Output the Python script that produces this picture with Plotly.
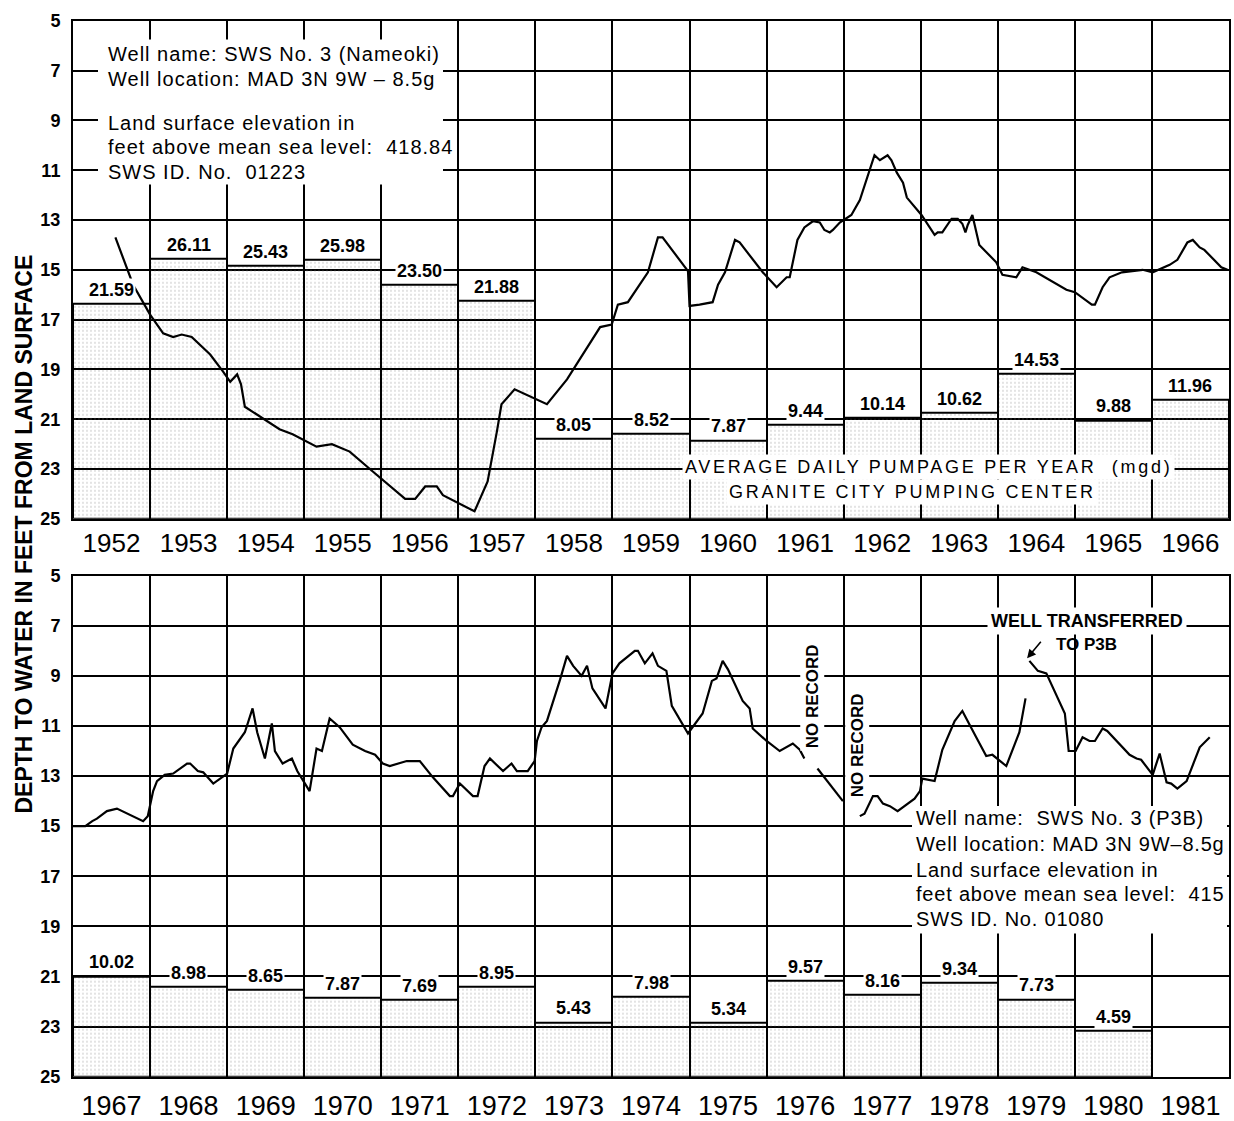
import plotly.graph_objects as go

# ---------------------------------------------------------------- data
# Average daily pumpage per year (mgd), Granite City pumping center
pump_years_top = list(range(1952, 1967))
pump_top = [21.59, 26.11, 25.43, 25.98, 23.50, 21.88, 8.05, 8.52, 7.87,
            9.44, 10.14, 10.62, 14.53, 9.88, 11.96]
pump_years_bot = list(range(1967, 1981))
pump_bot = [10.02, 8.98, 8.65, 7.87, 7.69, 8.95, 5.43, 7.98, 5.34, 9.57,
            8.16, 9.34, 7.73, 4.59]

year_labels_top = [str(y) for y in range(1952, 1967)]
year_labels_bot = [str(y) for y in range(1967, 1982)]
depth_ticks = list(range(5, 26, 2))

# Depth to water (ft below land surface), SWS No. 3 (Nameoki), 1952-1966
t_top = [1952.55, 1952.78, 1953.0, 1953.17, 1953.30, 1953.41, 1953.54, 1953.78, 1953.95, 1954.04,
         1954.13, 1954.18, 1954.23, 1954.43, 1954.68, 1954.85, 1955.16, 1955.36, 1955.59, 1955.89,
         1956.24, 1956.31, 1956.44, 1956.57, 1956.72, 1956.80, 1957.21, 1957.38, 1957.50, 1957.56,
         1957.73, 1958.15, 1958.41, 1958.67, 1958.84, 1958.99, 1959.07, 1959.20, 1959.35, 1959.46,
         1959.59, 1959.65, 1959.98, 1960.0, 1960.13, 1960.30, 1960.37, 1960.46, 1960.59, 1960.65,
         1960.95, 1961.13, 1961.26, 1961.30, 1961.40, 1961.49, 1961.60, 1961.69, 1961.75, 1961.82,
         1961.86, 1961.95, 1962.10, 1962.21, 1962.40, 1962.47, 1962.57, 1962.62, 1962.69, 1962.77,
         1962.82, 1963.01, 1963.18, 1963.22, 1963.28, 1963.40, 1963.48, 1963.54, 1963.58, 1963.61,
         1963.67, 1963.70, 1963.76, 1963.98, 1964.06, 1964.24, 1964.32, 1964.50, 1964.89, 1965.00,
         1965.22, 1965.26, 1965.36, 1965.45, 1965.61, 1965.88, 1966.01, 1966.23, 1966.33, 1966.46,
         1966.53, 1966.62, 1966.68, 1966.90, 1966.98]
d_top = [13.7, 15.6, 16.8, 17.55, 17.7, 17.6, 17.7, 18.4, 19.1, 19.5,
         19.2, 19.6, 20.5, 20.9, 21.4, 21.6, 22.1, 22.0, 22.3, 23.1,
         24.0, 24.2, 24.2, 23.7, 23.7, 24.05, 24.7, 23.5, 21.5, 20.4,
         19.8, 20.4, 19.4, 18.1, 17.3, 17.2, 16.4, 16.3, 15.6, 15.1,
         13.7, 13.7, 15.05, 16.45, 16.4, 16.3, 15.6, 15.1, 13.8, 13.9,
         15.1, 15.7, 15.3, 15.3, 13.8, 13.3, 13.05, 13.1, 13.4, 13.5,
         13.4, 13.1, 12.8, 12.2, 10.4, 10.6, 10.4, 10.6, 11.1, 11.5,
         12.1, 12.8, 13.6, 13.5, 13.5, 12.95, 12.95, 13.15, 13.5, 13.2,
         12.8, 13.2, 14.0, 14.7, 15.2, 15.3, 14.9, 15.1, 15.8, 15.9,
         16.4, 16.4, 15.7, 15.3, 15.1, 15.0, 15.1, 14.8, 14.6, 13.9,
         13.8, 14.1, 14.2, 14.9, 15.0]

# Depth to water, SWS No. 3 (P3B), 1967-1981 (None = no record)
t_bot = [1967.0, 1967.16, 1967.25, 1967.31, 1967.44, 1967.57, 1967.91, 1967.97, 1968.04, 1968.09,
         1968.19, 1968.30, 1968.48, 1968.52, 1968.62, 1968.69, 1968.82, 1969.0, 1969.08, 1969.23,
         1969.33, 1969.39, 1969.49, 1969.58, 1969.62, 1969.72, 1969.84, 1969.91, 1970.07, 1970.16,
         1970.23, 1970.33, 1970.46, 1970.63, 1970.79, 1970.92, 1971.02, 1971.11, 1971.33, 1971.50,
         1971.67, 1971.89, 1971.93, 1972.02, 1972.19, 1972.25, 1972.34, 1972.41, 1972.58, 1972.69,
         1972.76, 1972.90, 1972.99, 1973.02, 1973.08, 1973.15, 1973.32, 1973.41, 1973.49, 1973.60,
         1973.67, 1973.74, 1973.91, 1974.00, 1974.09, 1974.29, 1974.33, 1974.42, 1974.52, 1974.59,
         1974.70, 1974.77, 1974.98, 1975.17, 1975.29, 1975.35, 1975.43, 1975.50, 1975.69, 1975.78,
         1975.82, 1976.00, 1976.17, 1976.34, 1976.43, 1976.49, None, 1976.66, 1976.99, None,
         1977.21, 1977.27, 1977.38, 1977.44, 1977.51, 1977.60, 1977.70, 1977.92, 1977.99, 1978.02,
         1978.18, 1978.28, 1978.44, 1978.54, 1978.72, 1978.85, 1978.93, 1979.11, 1979.28, 1979.36,
         None, 1979.41, 1979.52, 1979.63, 1979.87, 1979.92, 1980.01, 1980.10, 1980.19, 1980.26,
         1980.36, 1980.42, 1980.71, 1980.80, 1980.86, 1981.01, 1981.10, 1981.19, 1981.25, 1981.33,
         1981.45, 1981.62, 1981.75]
d_bot = [15.0, 15.0, 14.8, 14.7, 14.4, 14.3, 14.8, 14.6, 13.6, 13.2,
         12.95, 12.9, 12.5, 12.5, 12.8, 12.85, 13.3, 12.9, 11.9, 11.25,
         10.3, 11.25, 12.3, 10.9, 12.0, 12.5, 12.3, 12.8, 13.6, 11.9,
         12.0, 10.7, 11.05, 11.75, 12.0, 12.15, 12.5, 12.6, 12.4, 12.4,
         13.05, 13.8, 13.8, 13.3, 13.8, 13.8, 12.6, 12.3, 12.8, 12.5,
         12.8, 12.8, 12.4, 11.6, 11.05, 10.8, 9.15, 8.2, 8.6, 9.0,
         8.6, 9.5, 10.3, 8.9, 8.5, 8.0, 8.0, 8.5, 8.1, 8.6,
         8.8, 10.2, 11.3, 10.5, 9.2, 9.1, 8.4, 8.75, 10.0, 10.3,
         11.1, 11.6, 12.0, 11.7, 11.95, 12.3, None, 12.7, 14.0, None,
         14.6, 14.5, 13.8, 13.8, 14.1, 14.2, 14.4, 13.9, 13.6, 13.1,
         13.2, 11.95, 10.8, 10.4, 11.45, 12.2, 12.15, 12.6, 11.25, 9.9,
         None, 8.4, 8.8, 8.9, 10.5, 12.0, 12.0, 11.45, 11.6, 11.6,
         11.1, 11.2, 12.15, 12.3, 12.35, 12.95, 12.1, 13.25, 13.3, 13.5,
         13.2, 11.85, 11.45]

info_top = ["Well name: SWS No. 3 (Nameoki)",
            "Well location: MAD 3N 9W \u2013 8.5g",
            "Land surface elevation in",
            "feet above mean sea level:\u00a0 418.84",
            "SWS ID. No.\u00a0 01223"]
info_bot = ["Well name:\u00a0 SWS No. 3 (P3B)",
            "Well location: MAD 3N 9W\u20138.5g",
            "Land surface elevation in",
            "feet above mean sea level:\u00a0 415",
            "SWS ID. No. 01080"]

# ---------------------------------------------------------------- layout constants
W, H = 1234, 1121
FONT = "Liberation Sans, Arial, Helvetica, sans-serif"
X_DOM = [73 / W, 1229 / W]
TOP_DOM = [1 - 519 / H, 1 - 11 / H]
BOT_DOM = [1 - 1088 / H, 1 - 577 / H]


def px(x):
    return x / W


def py(y):
    return 1 - y / H


def year_axis(start, labels, anchor, size, standoff):
    n = len(labels)
    return dict(
        domain=X_DOM, anchor=anchor, range=[start, start + n],
        tickmode="array", tickvals=[start + i + 0.5 for i in range(n)],
        ticktext=labels, ticks="", ticklabelstandoff=standoff,
        tickfont=dict(family=FONT, size=size, color="black"),
        showgrid=False, zeroline=False,
        showline=True, linecolor="black", linewidth=2, mirror=True,
        minor=dict(tickmode="array",
                   tickvals=[start + i for i in range(1, n)],
                   showgrid=True, gridcolor="black", gridwidth=2, ticks=""),
        fixedrange=True,
    )


def depth_axis(over, anchor):
    return dict(
        overlaying=over, anchor=anchor, side="left", range=[25, 5],
        tickmode="array", tickvals=depth_ticks,
        ticktext=[str(v) for v in depth_ticks], ticks="",
        ticklabelstandoff=7,
        tickfont=dict(family=FONT, size=18, color="black", weight="bold"),
        showgrid=True, gridcolor="black", gridwidth=2, zeroline=False,
        showline=True, linecolor="black", linewidth=2, mirror=True,
        fixedrange=True,
    )


def pump_axis(domain, anchor):
    return dict(domain=domain, anchor=anchor, range=[0, 50], visible=False,
                fixedrange=True)


stipple = dict(shape=".", fgcolor="#777777", size=4, solidity=0.12)

fig = go.Figure()

# pumpage bars (drawn on the hidden 0-50 mgd scale)
fig.add_trace(go.Bar(
    x=[y + 0.5 for y in pump_years_top], y=pump_top, width=1,
    xaxis="x", yaxis="y",
    marker=dict(color="rgba(0,0,0,0)", pattern=stipple,
                line=dict(color="black", width=2)),
    hoverinfo="skip", showlegend=False))
fig.add_trace(go.Bar(
    x=[y + 0.5 for y in pump_years_bot], y=pump_bot, width=1,
    xaxis="x2", yaxis="y2",
    marker=dict(color="rgba(0,0,0,0)", pattern=stipple,
                line=dict(color="black", width=2)),
    hoverinfo="skip", showlegend=False))

# water-level hydrographs
fig.add_trace(go.Scatter(
    x=t_top, y=d_top, mode="lines", xaxis="x", yaxis="y3",
    line=dict(color="black", width=2.2), showlegend=False))
fig.add_trace(go.Scatter(
    x=t_bot, y=d_bot, mode="lines", xaxis="x2", yaxis="y4",
    line=dict(color="black", width=2.2), connectgaps=False, showlegend=False))

annotations = []

# pumpage value labels
for yrs, vals, xr, yr in ((pump_years_top, pump_top, "x", "y"),
                          (pump_years_bot, pump_bot, "x2", "y2")):
    for yr_, v in zip(yrs, vals):
        annotations.append(dict(
            x=yr_ + 0.5, y=v, xref=xr, yref=yr, text=f"<b>{v:.2f}</b>",
            showarrow=False, xanchor="center", yanchor="bottom", yshift=2,
            bgcolor="white", borderpad=1,
            font=dict(family=FONT, size=18, color="black")))

# well information blocks
info_span = '<span style="letter-spacing:{}px">{}</span>'
for txt, ypix in zip(info_top, [45, 70, 115, 140, 165]):
    annotations.append(dict(
        x=px(107), y=py(ypix), xref="paper", yref="paper",
        text=info_span.format(1.0, txt), borderpad=0,
        showarrow=False, xanchor="left", yanchor="middle",
        font=dict(family=FONT, size=20, color="black")))
for txt, ypix in zip(info_bot, [824, 851, 877, 902, 927]):
    annotations.append(dict(
        x=px(915), y=py(ypix), xref="paper", yref="paper",
        text=info_span.format(0.8, txt), borderpad=0,
        showarrow=False, xanchor="left", yanchor="middle",
        font=dict(family=FONT, size=20, color="black")))

# pumpage caption
spaced = '<span style="letter-spacing:2.7px">{}</span>'
annotations.append(dict(
    x=px(928), y=py(466), xref="paper", yref="paper",
    text=spaced.format("AVERAGE DAILY PUMPAGE PER YEAR\u00a0 (mgd)"),
    showarrow=False, xanchor="center", yanchor="middle",
    bgcolor="white", borderpad=2,
    font=dict(family=FONT, size=18, color="black")))
annotations.append(dict(
    x=px(912), y=py(492), xref="paper", yref="paper",
    text=spaced.format("GRANITE CITY PUMPING CENTER"),
    showarrow=False, xanchor="center", yanchor="middle",
    bgcolor="white", borderpad=2,
    font=dict(family=FONT, size=18, color="black")))

# gaps in the record
for xpix, ypix in ((812, 700), (857, 750)):
    annotations.append(dict(
        x=px(xpix), y=py(ypix), xref="paper", yref="paper",
        text="<b>NO RECORD</b>", textangle=-90, showarrow=False,
        xanchor="center", yanchor="middle",
        bgcolor="white", borderpad=2,
        font=dict(family=FONT, size=17, color="black")))

# well transfer note
annotations.append(dict(
    x=px(1087), y=py(623), xref="paper", yref="paper",
    text="<b>WELL TRANSFERRED</b>", showarrow=False,
    xanchor="center", yanchor="middle",
    bgcolor="white", borderpad=3,
    font=dict(family=FONT, size=18, color="black")))
annotations.append(dict(
    x=px(1086), y=py(647), xref="paper", yref="paper",
    text="<b>TO P3B</b>", showarrow=False,
    xanchor="center", yanchor="middle",
    font=dict(family=FONT, size=17, color="black")))
annotations.append(dict(
    x=1979.38, y=8.3, xref="x2", yref="y4", text="",
    showarrow=True, ax=15, ay=-18, arrowhead=2, arrowsize=1.1,
    arrowwidth=1.6, arrowcolor="black"))

# shared y-axis title
annotations.append(dict(
    x=px(24), y=py(535), xref="paper", yref="paper",
    text="<b>DEPTH TO WATER IN FEET FROM LAND SURFACE</b>",
    textangle=-90, showarrow=False, xanchor="center", yanchor="middle",
    font=dict(family=FONT, size=23, color="black")))

# white panels behind the information blocks
shapes = [
    dict(type="rect", xref="paper", yref="paper",
         x0=px(98), x1=px(443), y0=py(178), y1=py(30),
         fillcolor="white", line=dict(width=0), layer="above"),
    dict(type="rect", xref="paper", yref="paper",
         x0=px(912), x1=px(1227), y0=py(942), y1=py(812),
         fillcolor="white", line=dict(width=0), layer="above"),
]

fig.update_layout(
    width=W, height=H, margin=dict(l=0, r=0, t=0, b=0),
    paper_bgcolor="white", plot_bgcolor="white",
    barmode="overlay", bargap=0, showlegend=False,
    xaxis=year_axis(1952, year_labels_top, "y", 26, 0),
    xaxis2=year_axis(1967, year_labels_bot, "y2", 27, 4),
    yaxis=pump_axis(TOP_DOM, "x"),
    yaxis2=pump_axis(BOT_DOM, "x2"),
    yaxis3=depth_axis("y", "x"),
    yaxis4=depth_axis("y2", "x2"),
    annotations=annotations, shapes=shapes,
)

fig.write_html("out.html")
